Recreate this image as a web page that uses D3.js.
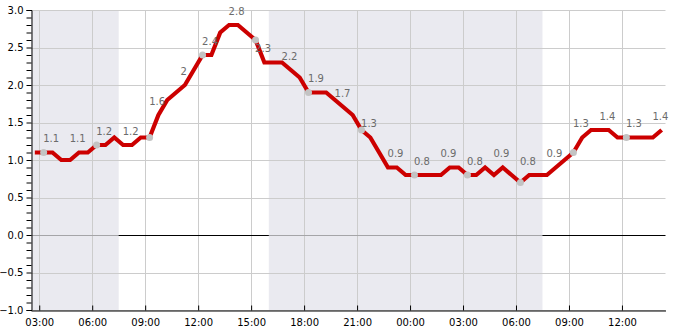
<!DOCTYPE html>
<html>
<head>
<meta charset="utf-8">
<script src="https://cdn.jsdelivr.net/npm/d3@7"></script>
<style>
  body { margin: 0; background: #fff; }
  svg text { font-family: "DejaVu Sans", sans-serif; font-size: 10px; }
</style>
</head>
<body>
<svg id="chart" width="685" height="330"></svg>
<script>
// half-hourly readings, starting day 1 02:45
const times = [
  "02:45","03:15","03:45","04:15","04:45","05:15","05:45","06:15","06:45","07:15",
  "07:45","08:15","08:45","09:15","09:45","10:15","10:45","11:15","11:45","12:15",
  "12:45","13:15","13:45","14:15","14:45","15:15","15:45","16:15","16:45","17:15",
  "17:45","18:15","18:45","19:15","19:45","20:15","20:45","21:15","21:45","22:15",
  "22:45","23:15","23:45","00:15","00:45","01:15","01:45","02:15","02:45","03:15",
  "03:45","04:15","04:45","05:15","05:45","06:15","06:45","07:15","07:45","08:15",
  "08:45","09:15","09:45","10:15","10:45","11:15","11:45","12:15","12:45","13:15",
  "13:45","14:15"
];
const values = [
  1.1,1.1,1.1,1.0,1.0,1.1,1.1,1.2,1.2,1.3,
  1.2,1.2,1.3,1.3,1.6,1.8,1.9,2.0,2.2,2.4,
  2.4,2.7,2.8,2.8,2.7,2.6,2.3,2.3,2.3,2.2,
  2.1,1.9,1.9,1.9,1.8,1.7,1.6,1.4,1.3,1.1,
  0.9,0.9,0.8,0.8,0.8,0.8,0.8,0.9,0.9,0.8,
  0.8,0.9,0.8,0.9,0.8,0.7,0.8,0.8,0.8,0.9,
  1.0,1.1,1.3,1.4,1.4,1.4,1.3,1.3,1.3,1.3,
  1.3,1.4
];

// grey dots every 3 hours (index into the readings)
const markerIdx = [1, 7, 13, 19, 25, 31, 37, 43, 49, 55, 61, 67];

// value labels every 1.5 hours
const labelIdx = [1,4,7,10,13,16,19,22,25,28,31,34,37,40,43,46,49,52,55,58,61,64,67,70];
const labelValues = [1.1,1.1,1.2,1.2,1.6,2,2.4,2.8,2.3,2.2,1.9,1.7,1.3,0.9,0.8,0.9,0.8,0.9,0.8,0.9,1.3,1.4,1.3,1.4];

// dark periods (day offset, hh:mm)
const nights = [
  [[0, "02:32"], [0, "07:30"]],
  [[0, "16:00"], [1, "07:30"]]
];
const domainEnds = [[0, "02:32"], [1, "14:28"]];
const yTicks = [-1.0, -0.5, 0.0, 0.5, 1.0, 1.5, 2.0, 2.5, 3.0];

const toDate = (day, hm) => {
  const [h, m] = hm.split(':').map(Number);
  return new Date(2024, 0, 1 + day, h, m);
};

// turn clock strings into dates, rolling over at midnight
let day = 0, prev = -1;
const data = times.map((t, i) => {
  const [h, m] = t.split(':').map(Number);
  const mins = h * 60 + m;
  if (mins < prev) day++;
  prev = mins;
  return { date: toDate(day, t), value: values[i] };
});

const svg = d3.select('#chart');
const margin = { left: 31, right: 20, top: 10, bottom: 20 };
const width = +svg.attr('width');
const height = +svg.attr('height');

const x = d3.scaleTime()
  .domain(domainEnds.map(d => toDate(d[0], d[1])))
  .range([margin.left, width - margin.right + 0.5]);
const y = d3.scaleLinear().domain([-1, 3]).range([height - margin.bottom, margin.top]);

const x0 = x.range()[0], x1 = x.range()[1];
const yTop = y(3), yBot = y(-1);

// night shading
svg.selectAll('rect.night').data(nights).enter().append('rect')
  .attr('class', 'night')
  .attr('x', d => x(toDate(...d[0])))
  .attr('width', d => x(toDate(...d[1])) - x(toDate(...d[0])))
  .attr('y', yTop)
  .attr('height', yBot - yTop)
  .attr('fill', '#eaeaf0');

// grid
const xTicks = x.ticks(d3.timeHour.every(3));
svg.append('g').selectAll('line').data(xTicks).enter().append('line')
  .attr('x1', d => Math.round(x(d)) + 0.5).attr('x2', d => Math.round(x(d)) + 0.5)
  .attr('y1', yTop).attr('y2', yBot)
  .attr('stroke', '#cccccc');
svg.append('g').selectAll('line').data(yTicks.filter(v => v !== 0)).enter().append('line')
  .attr('x1', x0).attr('x2', x1)
  .attr('y1', d => Math.round(y(d)) + 0.5).attr('y2', d => Math.round(y(d)) + 0.5)
  .attr('stroke', '#cccccc');

// zero line, black in daylight and grey over the shading
svg.append('line')
  .attr('x1', x0).attr('x2', x1)
  .attr('y1', Math.round(y(0)) + 0.5).attr('y2', Math.round(y(0)) + 0.5)
  .attr('stroke', '#000');
svg.selectAll('line.zeroNight').data(nights).enter().append('line')
  .attr('class', 'zeroNight')
  .attr('x1', d => x(toDate(...d[0]))).attr('x2', d => x(toDate(...d[1])))
  .attr('y1', Math.round(y(0)) + 0.5).attr('y2', Math.round(y(0)) + 0.5)
  .attr('stroke', '#a5a5a8');

// axes
const xAxis = svg.append('g')
  .attr('transform', `translate(0,${Math.round(yBot) + 0.5})`)
  .call(d3.axisBottom(x).tickValues(xTicks).tickFormat(d3.timeFormat('%H:%M'))
    .tickSizeInner(-5).tickSizeOuter(0).tickPadding(8));
xAxis.select('.domain').attr('stroke', '#000');
xAxis.selectAll('.tick line').attr('stroke', '#000');
xAxis.selectAll('text').attr('fill', '#000').style('font-size', '10px');

const minorTicks = d3.range(-10, 31).map(v => v / 10);
const yAxis = svg.append('g')
  .attr('transform', `translate(${Math.round(x0) + 0.5},0)`)
  .call(d3.axisLeft(y).tickValues(minorTicks)
    .tickFormat(d => yTicks.some(t => Math.abs(t - d) < 1e-9) ? d3.format('.1f')(d) : '')
    .tickSize(5).tickPadding(3));
yAxis.select('.domain').attr('stroke', '#000');
yAxis.selectAll('.tick line').attr('stroke', '#000');
yAxis.selectAll('text').attr('fill', '#000').style('font-size', '10px');

// data line
const line = d3.line().x(d => x(d.date)).y(d => y(d.value));
svg.append('path')
  .datum(data)
  .attr('d', line)
  .attr('fill', 'none')
  .attr('stroke', '#cc0000')
  .attr('stroke-width', 4.2)
  .attr('stroke-linejoin', 'miter');

// markers
svg.selectAll('circle.marker').data(markerIdx.map(i => data[i])).enter().append('circle')
  .attr('class', 'marker')
  .attr('cx', d => x(d.date))
  .attr('cy', d => y(d.value))
  .attr('r', 3.5)
  .attr('fill', '#c3c3c3');

// value labels
svg.selectAll('text.vlabel').data(labelIdx.map((i, k) => ({ date: data[i].date, v: labelValues[k] })))
  .enter().append('text')
  .attr('class', 'vlabel')
  .attr('x', d => x(d.date) + 7.5)
  .attr('y', d => y(d.v) - 10.5)
  .attr('text-anchor', 'middle')
  .attr('fill', '#6b6b6b')
  .text(d => d.v);
</script>
</body>
</html>
